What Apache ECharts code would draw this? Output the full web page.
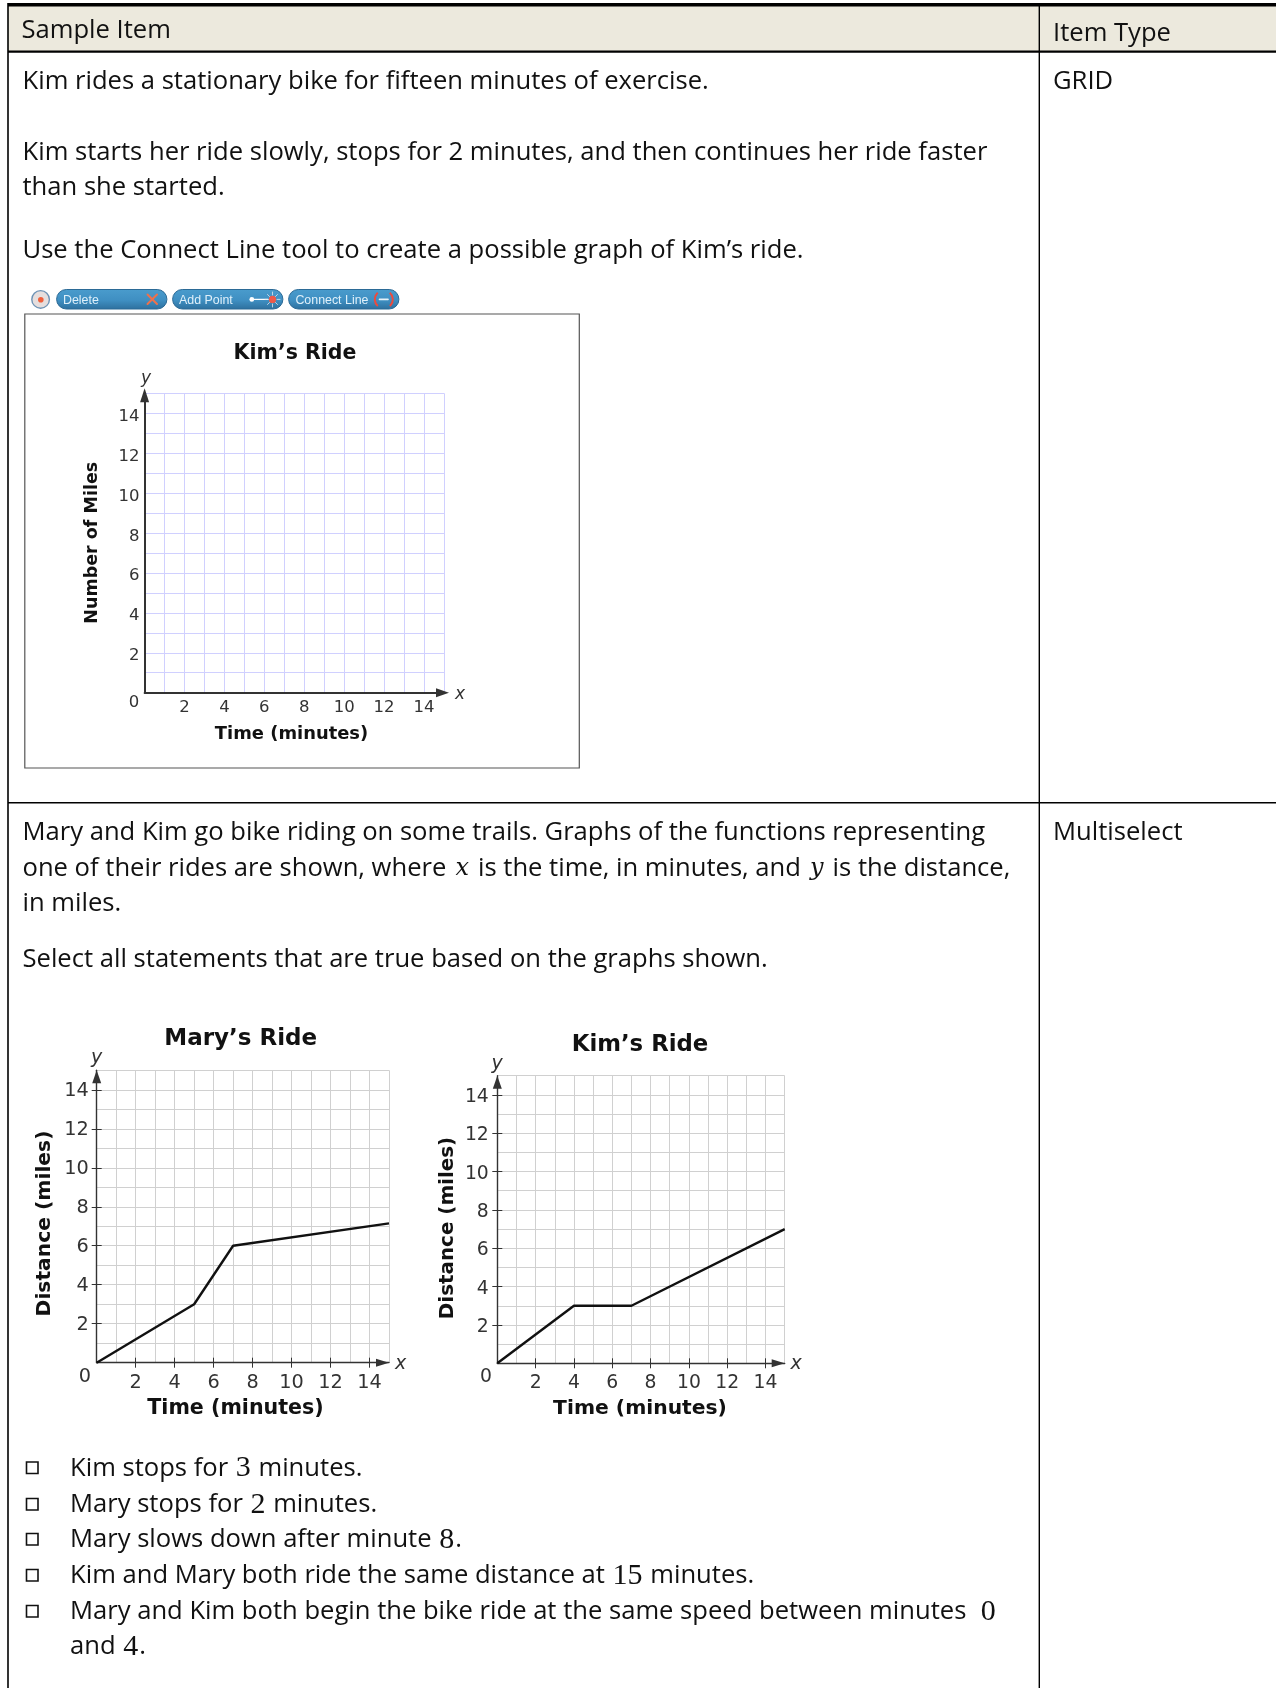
<!DOCTYPE html>
<html><head><meta charset="utf-8">
<style>html,body{margin:0;padding:0;background:#fff}#c{width:1276px;height:1688px}</style>
<script src="https://cdn.jsdelivr.net/npm/echarts@6/dist/echarts.min.js"></script>
</head><body><div id="c"></div>
<script>
// ---- data ----
var tickLabels = [2, 4, 6, 8, 10, 12, 14];
var maryTime = [0, 5, 7, 15];
var maryMiles = [0, 3, 6, 7.15];
var kimTime = [0, 4, 7, 15];
var kimMiles = [0, 3, 3, 7];
var timeName = 'Time (minutes)';
var distName = 'Distance (miles)';
var milesName = 'Number of Miles';
var optionLines = [
  '{t|Kim stops for }{m|3}{t| minutes.}',
  '{t|Mary stops for }{m|2}{t| minutes.}',
  '{t|Mary slows down after minute }{m|8}{t|.}',
  '{t|Kim and Mary both ride the same distance at }{m|15}{t| minutes.}',
  '{t|Mary and Kim both begin the bike ride at the same speed between minutes  }{m|0}',
  '{t|and }{m|4}{t|.}'
];

// ---- layout ----
var FONT = '"Open Sans"', FS = 25.6, CHART = '"DejaVu Sans"', INK = '#111';
var rich = {
  t: {fontFamily: FONT, fontSize: FS, fill: INK},
  m: {fontFamily: '"Liberation Serif"', fontSize: 30, fill: INK, padding: [0, 1, 0, 1]},
  i: {fontFamily: '"DejaVu Serif"', fontStyle: 'italic', fontSize: 24, fill: INK, padding: [0, 2.4, 0, 2.4]}
};
var gfx = [];
function rect(x, y, w, h, fill, extra) {
  gfx.push(Object.assign({type: 'rect', shape: {x: x, y: y, width: w, height: h}, style: {fill: fill}, silent: true, z: 1}, extra || {}));
}
function text(x, y, s, o) {
  o = o || {};
  var st = {text: s, x: x, y: y, verticalAlign: 'middle', align: o.align || 'left',
    fontFamily: o.family || FONT, fontSize: o.size || FS, fontStyle: o.style || 'normal',
    fontWeight: o.weight || 'normal', fill: o.fill || INK};
  if (o.rich) st.rich = rich;
  gfx.push({type: 'text', style: st, silent: true, z: 5});
}
function line(x1, y1, x2, y2, color, w) {
  gfx.push({type: 'line', shape: {x1: x1, y1: y1, x2: x2, y2: y2}, style: {stroke: color, lineWidth: w, lineCap: 'round'}, silent: true, z: 6});
}

// table
rect(8, 4, 1268, 47, '#ECE9DD');
rect(8, 3, 1268, 3.5, '#000');
rect(8, 50.5, 1268, 2.2, '#000');
rect(7.2, 3, 1.6, 1685, '#000');
rect(1038.6, 3, 1.4, 1685, '#000');
rect(8, 802, 1268, 1.6, '#000');

text(21.5, 31, 'Sample Item');
text(1053, 34, 'Item Type');
text(22.5, 82, 'Kim rides a stationary bike for fifteen minutes of exercise.');
text(1053, 82, 'GRID');
text(22.5, 153, 'Kim starts her ride slowly, stops for 2 minutes, and then continues her ride faster');
text(22.5, 188, 'than she started.');
text(22.5, 251, 'Use the Connect Line tool to create a possible graph of Kim\u2019s ride.');
text(22.5, 833, 'Mary and Kim go bike riding on some trails. Graphs of the functions representing');
text(1053, 833, 'Multiselect');
text(22.5, 869, '{t|one of their rides are shown, where }{i|x}{t| is the time, in minutes, and }{i|y}{t| is the distance,}', {rich: true});
text(22.5, 904, 'in miles.');
text(22.5, 960, 'Select all statements that are true based on the graphs shown.');

var optY = [1468.5, 1505, 1540, 1576, 1612, 1647];
optionLines.forEach(function (s, i) {
  text(70, optY[i], s, {rich: true});
  if (i < 5) gfx.push({type: 'rect', shape: {x: 26.5, y: optY[i] - 6.5, width: 11.5, height: 11.5},
    style: {fill: '#fff', stroke: '#111', lineWidth: 1.6}, silent: true, z: 5});
});

// toolbar
var btnFill = {type: 'linear', x: 0, y: 0, x2: 0, y2: 1,
  colorStops: [{offset: 0, color: '#4a9ccd'}, {offset: 0.55, color: '#3f8fc2'}, {offset: 1, color: '#2d6f9d'}]};
[[56.6, 'Delete', 63], [172.6, 'Add Point', 179], [288.6, 'Connect Line', 295.4]].forEach(function (b) {
  gfx.push({type: 'rect', shape: {x: b[0], y: 289.5, width: 110.3, height: 19.5, r: 9.7},
    style: {fill: btnFill, stroke: '#2b6a96', lineWidth: 1}, silent: true, z: 4});
  text(b[2], 300.4, b[1], {family: '"Liberation Sans"', size: 12.4, fill: '#dff0fa'});
});
gfx.push({type: 'circle', shape: {cx: 40.6, cy: 299.4, r: 8.8}, style: {fill: '#e6dedd', stroke: '#6e93b5', lineWidth: 1.4}, silent: true, z: 4});
gfx.push({type: 'circle', shape: {cx: 40.8, cy: 299.8, r: 2.8}, style: {fill: '#f0603c'}, silent: true, z: 5});
line(147.5, 294.5, 157, 304, '#f0704a', 2); line(157, 294.5, 147.5, 304, '#f0704a', 2);
gfx.push({type: 'circle', shape: {cx: 251.8, cy: 299.4, r: 2.4}, style: {fill: '#fff'}, silent: true, z: 6});
line(252, 299.4, 268, 299.4, '#fff', 1.2);
gfx.push({type: 'circle', shape: {cx: 272.5, cy: 299.4, r: 3.6}, style: {fill: '#ee5a4a'}, silent: true, z: 6});
[[272.5,292,272.5,295],[272.5,304,272.5,307],[265,299.4,268,299.4],[277,299.4,280,299.4],[267.5,294.5,269.5,296.5],[275.5,302.5,277.5,304.5],[275.5,296.5,277.5,294.5],[267.5,304.5,269.5,302.5]].forEach(function (l) {
  line(l[0], l[1], l[2], l[3], '#dfe9f0', 0.8);
});
gfx.push({type: 'arc', shape: {cx: 383.8, cy: 299.4, r: 9, startAngle: 2.3, endAngle: 3.98}, style: {stroke: '#ee4a3c', lineWidth: 2, fill: 'none'}, silent: true, z: 6});
gfx.push({type: 'arc', shape: {cx: 383.8, cy: 299.4, r: 9, startAngle: -0.84, endAngle: 0.84}, style: {stroke: '#ee4a3c', lineWidth: 2, fill: 'none'}, silent: true, z: 6});
line(379.5, 299.4, 388, 299.4, '#e8f2f8', 1.6);

// top chart frame
gfx.push({type: 'rect', shape: {x: 24.8, y: 314, width: 554.5, height: 454}, style: {fill: 'none', stroke: '#555', lineWidth: 1.2}, silent: true, z: 2});

// charts
var panels = [
  {box: [144.6, 393.3, 299.4, 299.4], grid: '#d0d0ff', axis: '#333', axisW: 2, tick: false,
   title: 'Kim\u2019s Ride', tx: 295, ty: 351, tsize: 20.5, xn: timeName, xs: 17.9, xy: 734, xc: 291.5,
   yn: milesName, ys: 17.5, yc: 92.7, ym: 542.7, ls: 16.5, lm: 7, lmy: 5, lshift: 3.2,
   zero: [134, 703], xl: [460, 695], yl: [146, 379], is: 17, ax: -1.5, ay: -2, ah: [9, 14], ahx: [9, 13]},
  {box: [96.7, 1070.3, 292.3, 292.4], grid: '#d0d0d0', axis: '#333', axisW: 1.4, tick: true,
   title: 'Mary\u2019s Ride', tx: 240.7, ty: 1036.7, tsize: 23, xn: timeName, xs: 20.6, xy: 1409, xc: 235.5,
   yn: distName, ys: 20.3, yc: 44.3, ym: 1223.5, ls: 19.3, lm: 10.5, lmy: 8, lshift: 1.1,
   zero: [85, 1377], xl: [400.7, 1364], yl: [96.7, 1057.7], is: 19, ax: -6.5, ay: -6.5, ah: [9, 13], ahx: [8, 13],
   xd: maryTime, yd: maryMiles},
  {box: [497.3, 1075.7, 287.4, 287.6], grid: '#d0d0d0', axis: '#333', axisW: 1.4, tick: true,
   title: 'Kim\u2019s Ride', tx: 640, ty: 1042.7, tsize: 22.8, xn: timeName, xs: 20.3, xy: 1409, xc: 640,
   yn: distName, ys: 19.9, yc: 448, ym: 1228, ls: 18.8, lm: 10, lmy: 8.5, lshift: 2.2,
   zero: [486, 1377], xl: [796, 1364], yl: [497, 1064], is: 19, ax: -6.5, ay: -6.5, ah: [9, 13], ahx: [8, 13],
   xd: kimTime, yd: kimMiles}
];
var grids = [], xAxes = [], yAxes = [], series = [], titles = [];
panels.forEach(function (p) {
  var g = grids.length;
  var b = p.box;
  grids.push({left: b[0], top: b[1], width: b[2], height: b[3], containLabel: false});
  titles.push({text: p.title, left: p.tx, top: p.ty - p.tsize * 0.62 + 5, padding: 0, textAlign: 'center',
    textStyle: {fontFamily: CHART, fontSize: p.tsize, fontWeight: 'bold', color: '#111'}});
  var midX = b[0] + b[2] / 2, midY = b[1] + b[3] / 2;
  var split = {show: true, lineStyle: {color: p.grid, width: 1}};
  var base = {type: 'value', gridIndex: g, min: 0, max: 15, interval: 1};
  xAxes.push(Object.assign({}, base, {position: 'bottom',
    name: p.xn, nameLocation: 'middle', nameGap: p.xy - (b[1] + b[3]),
    nameTextStyle: {fontFamily: CHART, fontSize: p.xs, fontWeight: 'bold', color: '#111',
      verticalAlign: 'middle',
      padding: p.xc < midX ? [0, 2 * (midX - p.xc), 0, 0] : [0, 0, 0, 2 * (p.xc - midX)]},
    axisLine: {show: true, onZero: false, symbol: ['none', 'triangle'], symbolSize: p.ahx, symbolOffset: [0, p.ax], lineStyle: {color: p.axis, width: p.axisW}},
    axisTick: {show: false},
    axisLabel: {show: true, margin: p.lm, fontFamily: CHART, fontSize: p.ls, color: '#333', customValues: tickLabels},
    splitLine: split}));
  yAxes.push(Object.assign({}, base, {position: 'left',
    name: p.yn, nameLocation: 'middle', nameGap: b[0] - p.yc, nameRotate: 90,
    nameTextStyle: {fontFamily: CHART, fontSize: p.ys, fontWeight: 'bold', color: '#111',
      verticalAlign: 'middle',
      padding: p.ym > midY ? [0, 2 * (p.ym - midY), 0, 0] : [0, 0, 0, 2 * (midY - p.ym)]},
    axisLine: {show: true, onZero: false, symbol: ['none', 'triangle'], symbolSize: p.ah, symbolOffset: [0, p.ay], lineStyle: {color: p.axis, width: p.axisW}},
    axisTick: {show: false},
    axisLabel: {show: true, margin: p.lmy, verticalAlign: 'top', lineHeight: 2 * p.lshift, fontFamily: CHART, fontSize: p.ls, color: '#333', customValues: tickLabels},
    splitLine: split}));
  var xIndex = xAxes.length - 1, yIndex = yAxes.length - 1;
  if (p.tick) {
    // even-numbered tick marks crossing each axis: one helper axis outward, one inward
    [false, true].forEach(function (inside) {
      var tick = {show: true, inside: inside, length: 5, customValues: tickLabels, lineStyle: {color: '#333', width: 1}};
      xAxes.push(Object.assign({}, base, {position: 'bottom', axisLine: {show: false, onZero: false}, axisTick: tick, axisLabel: {show: false}, splitLine: {show: false}}));
      yAxes.push(Object.assign({}, base, {position: 'left', axisLine: {show: false, onZero: false}, axisTick: tick, axisLabel: {show: false}, splitLine: {show: false}}));
    });
  }
  series.push({type: 'line', name: p.title, xAxisIndex: xIndex, yAxisIndex: yIndex,
    data: p.xd ? p.xd.map(function (x, i) { return [x, p.yd[i]]; }) : [],
    showSymbol: false, silent: true, animation: false, z: 10,
    lineStyle: {color: '#111', width: 2.4}});
  text(p.zero[0], p.zero[1], '0', {family: CHART, size: p.ls, fill: '#333', align: 'center'});
  text(p.xl[0], p.xl[1], 'x', {family: CHART, size: p.is, fill: '#333', style: 'italic', align: 'center'});
  text(p.yl[0], p.yl[1], 'y', {family: CHART, size: p.is, fill: '#333', style: 'italic', align: 'center'});
});

var chart = echarts.init(document.getElementById('c'), null, {renderer: 'canvas'});
chart.setOption({
  animation: false, backgroundColor: '#fff', tooltip: {show: false}, legend: {show: false},
  title: titles, grid: grids, xAxis: xAxes, yAxis: yAxes, series: series,
  graphic: {elements: gfx}
});
</script></body></html>
